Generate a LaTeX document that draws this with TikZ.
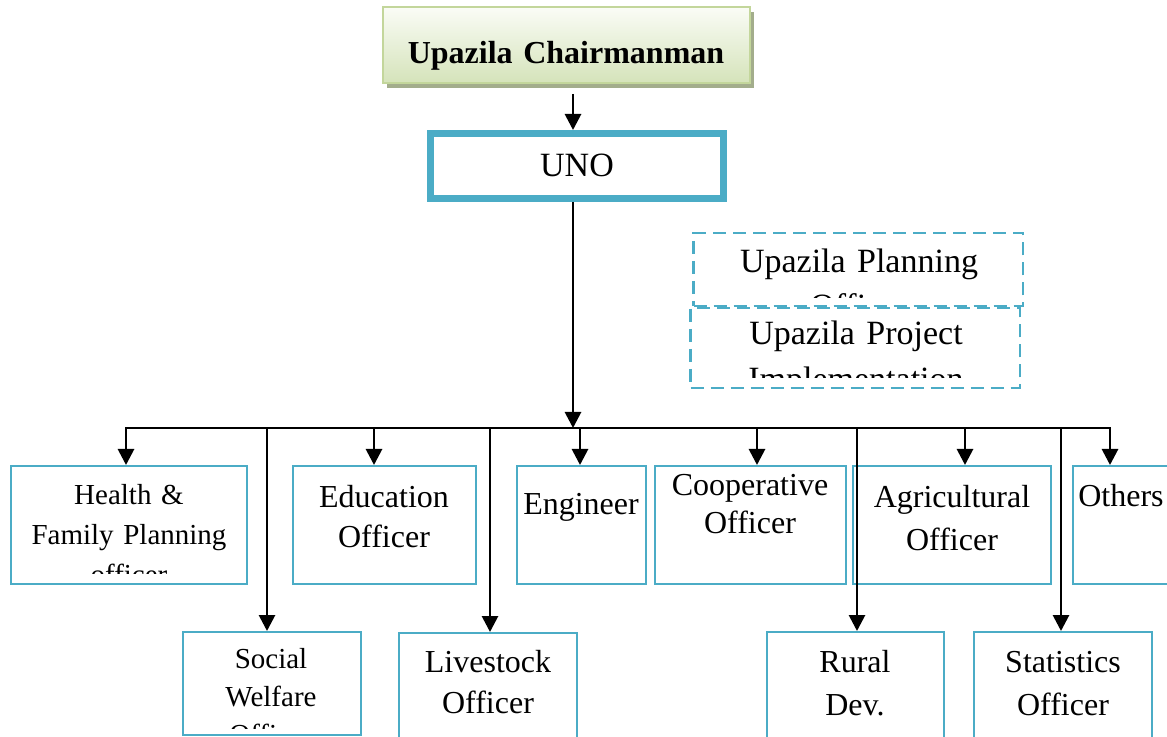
\documentclass[tikz,border=0pt]{standalone}
\usepackage{fontspec}
\setmainfont{Liberation Serif}
\usetikzlibrary{arrows.meta, fit, shadows}

\definecolor{boxteal}{HTML}{4BACC6}
\definecolor{chairtop}{HTML}{FAFCF6}
\definecolor{chairbot}{HTML}{D5E3BA}
\definecolor{chairline}{HTML}{C3D69B}
\definecolor{chairshadow}{HTML}{A3AD8C}

\begin{document}
\begin{tikzpicture}[x=0.5pt, y=-0.5pt,
    arr/.style={line width=1.4pt, -{Triangle[width=8pt, length=8pt]}},
    busline/.style={line width=1.4pt, line cap=rect},
    obox/.style={draw=boxteal, line width=1pt, inner sep=0pt},
    dbox/.style={draw=boxteal, line width=1.2pt, dash pattern=on 6.5pt off 3.5pt, inner sep=0pt},
    txt/.style={font=\fontsize{16}{21}\selectfont, align=center, text width=170pt, inner sep=0pt, anchor=base},
    smalltxt/.style={txt, font=\fontsize{14.5}{19.5}\selectfont},
    bigtxt/.style={txt, font=\fontsize{17}{22.5}\selectfont}]
    % Page size
    \useasboundingbox (0,0) rectangle (1167,737);

    % Chairman box
    \node[draw=chairline, line width=0.8pt, inner sep=0pt, top color=chairtop, bottom color=chairbot,
          drop shadow={shadow xshift=2pt, shadow yshift=-2.5pt, fill=chairshadow, opacity=1},
          fit={(383,7) (750,83)}] (chair) {};
    \node[txt, font=\fontsize{16}{21}\selectfont\bfseries] (chairtxt) at (566,64) {Upazila Chairmanman};

    % UNO
    \node[draw=boxteal, line width=3.5pt, inner sep=0pt, fit={(430.5,133.5) (723.5,198.5)}] (uno) {};
    \node[bigtxt] (unotxt) at (577,177) {UNO};

    % Planning and project boxes
    \node[dbox, fit={(693.5,233) (1023,306)}] (plan) {};
    \node[dbox, fill=white, fit={(690.5,308) (1020,388)}] (proj) {};
    \begin{scope}
        \clip (plan.north west) rectangle (plan.east |- 0,298);
        \node[bigtxt] (plantxt) at (859,273) {Upazila Planning\\Officer};
    \end{scope}
    \begin{scope}
        \clip (proj.north west) rectangle (proj.east |- 0,378);
        \node[bigtxt, font=\fontsize{17}{23}\selectfont] (projtxt) at (856,345) {Upazila Project\\Implementation};
    \end{scope}

    % Upper row of officers
    \node[obox, fit={(11,466) (247,584)}] (health) {};
    \node[obox, fit={(293,466) (476,584)}] (edu) {};
    \node[obox, fit={(517,466) (646,584)}] (eng) {};
    \node[obox, fit={(655,466) (846,584)}] (coop) {};
    \node[obox, fit={(853,466) (1051,584)}] (agri) {};
    \node[obox, fit={(1073,466) (1170,584)}] (others) {};
    \begin{scope}
        \clip (health.north west) rectangle (health.east |- 0,573);
        \node[smalltxt, font=\fontsize{14.5}{20}\selectfont] (healthtxt) at (129,504) {Health \&\\Family Planning\\officer};
    \end{scope}
    \node[txt, font=\fontsize{16}{20.5}\selectfont] (edutxt) at (384,507) {Education\\Officer};
    \node[txt] (engtxt) at (581,514) {Engineer};
    \node[txt, font=\fontsize{16}{19}\selectfont] (cooptxt) at (750,495) {Cooperative\\Officer};
    \node[txt, font=\fontsize{16}{21.5}\selectfont] (agritxt) at (952,507) {Agricultural\\Officer};
    \node[txt] (otherstxt) at (1121,506) {Others};

    % Lower row of officers
    \node[obox, fit={(183,632) (361,735)}] (social) {};
    \node[obox, fit={(399,633) (577,742)}] (live) {};
    \node[obox, fit={(767,632) (944,742)}] (rural) {};
    \node[obox, fit={(974,632) (1152,742)}] (stat) {};
    \begin{scope}
        \clip (social.north west) rectangle (social.east |- 0,728);
        \node[smalltxt, font=\fontsize{14.5}{19}\selectfont] (socialtxt) at (271,668) {Social\\Welfare\\Officer};
    \end{scope}
    \node[txt, font=\fontsize{16}{20.5}\selectfont] (livetxt) at (488,672) {Livestock\\Officer};
    \node[txt, font=\fontsize{16}{21.5}\selectfont] (ruraltxt) at (855,672) {Rural\\Dev.};
    \node[txt, font=\fontsize{16}{21.5}\selectfont] (stattxt) at (1063,672) {Statistics\\Officer};

    % Connectors
    \coordinate (busmid) at (573,428);
    \coordinate (busL) at (126,428);
    \coordinate (busR) at (1110,428);
    \draw[arr] ([yshift=-5pt]busmid |- chair.south) -- (busmid |- uno.north);
    \draw[busline] (busL) -- (busR);
    \draw[arr] (busmid |- uno.south) -- (busmid);
    \foreach \x/\n in {126/health, 374/edu, 580/eng, 757/coop, 965/agri, 1110/others,
                       267/social, 490/live, 857/rural, 1061/stat}
        \draw[arr] (\x,428) -- (\x,428 |- \n.north);
\end{tikzpicture}
\end{document}
